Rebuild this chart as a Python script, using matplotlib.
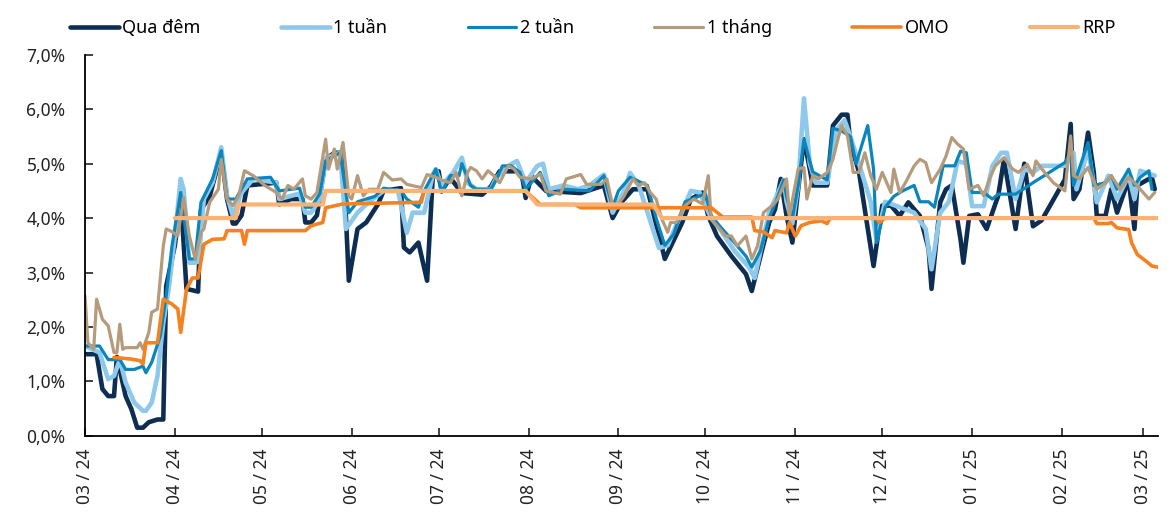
import pandas as pd
import matplotlib.pyplot as plt
import matplotlib.dates as mdates
from matplotlib.ticker import FuncFormatter

plt.rcParams['font.family'] = ['Noto Sans', 'DejaVu Sans']

start = pd.Timestamp("2024-03-01")

# day offsets from 1 Mar 2024 and rates in %
qd_days = [0, 4, 6, 8, 10, 11, 14, 16, 18, 20, 22, 25, 27, 28, 31, 33, 35, 39, 40, 43, 47, 49, 51, 52, 54, 56,
           66, 67, 71, 75, 76, 78, 80, 83, 86, 89, 91, 94, 97, 101, 103, 109, 110, 112, 115, 118, 120, 122, 123,
           126, 130, 137, 140, 143, 150, 151, 152, 154, 159, 171, 179, 182, 185, 189, 194, 200, 206, 209, 213,
           215, 218, 223, 228, 230, 233, 236, 238, 240, 242, 244, 246, 248, 250, 251, 256, 258, 261, 263, 264,
           267, 272, 275, 278, 281, 284, 288, 291, 292, 295, 297, 299, 302, 303, 305, 308, 311, 315, 317, 321,
           324, 327, 330, 338, 340, 341, 343, 346, 348, 349, 352, 354, 356, 360, 362, 363, 368, 369]
qd_vals = [1.5, 1.5, 0.86, 0.73, 0.73, 1.45, 0.73, 0.49, 0.15, 0.15, 0.25, 0.3, 0.3, 2.75, 3.5, 4.4, 2.7, 2.65,
           4.15, 4.4, 5.2, 4.35, 3.9, 3.9, 4.05, 4.6,
           4.65, 4.25, 4.35, 4.35, 3.92, 3.92, 4.05, 5.08, 5.2, 5.2, 2.85, 3.8, 3.92, 4.25, 4.5, 4.55, 3.46, 3.37,
           3.55, 2.85, 4.8, 4.86, 4.5,
           4.74, 4.46, 4.43, 4.58, 4.86, 4.86, 4.7, 4.37, 4.77, 4.5, 4.46, 4.6, 4.0, 4.29, 4.53, 4.53, 3.25, 3.92,
           4.35, 4.47,
           4.04, 3.67, 3.3, 2.97, 2.66, 3.3, 3.92, 4.16, 4.72, 4.04, 3.55, 4.53, 5.45, 4.9, 4.6, 4.6, 5.7, 5.9,
           5.9, 5.39,
           4.84, 3.12, 4.23, 4.23, 4.04, 4.29, 4.04, 3.43, 2.7, 4.29, 4.53, 4.6, 3.61, 3.18, 4.04, 4.07, 3.8, 4.41,
           5.08, 3.8,
           5.0, 3.85, 3.96, 4.71, 5.73, 4.35, 4.53, 5.57, 4.83, 4.04, 4.04, 4.53, 4.1, 4.71, 3.8, 4.6, 4.75, 4.53]

w1_days = [0, 5, 8, 10, 12, 14, 17, 20, 21, 23, 25, 27, 29, 31, 33, 34, 36, 38, 39, 41, 44, 47, 49, 51, 54, 58,
           66, 67, 74, 76, 78, 81, 83, 88, 90, 94, 98, 103, 108, 111, 113, 117, 120,
           121, 123, 127, 130, 132, 135, 140, 142, 146, 149, 152, 156, 158, 160, 165, 170, 174, 179, 182, 186,
           188, 191, 198, 201, 205, 209, 212, 216, 219, 224, 229, 231, 233, 236, 241, 242, 244, 246, 248, 250,
           252, 256, 259, 262, 264, 267, 271, 273, 276, 281, 286, 290, 292, 295, 298, 301, 304, 306, 310, 313,
           316, 318, 321, 324, 327, 330, 338, 341, 342, 346, 349, 353, 356, 360, 362, 364, 369]
w1_vals = [1.65, 1.53, 1.04, 1.1, 1.4, 0.98, 0.61, 0.46, 0.46, 0.61, 1.1, 2.08, 2.75, 3.67, 4.72, 4.53, 3.18,
           3.18, 3.2, 4.35, 4.65, 5.3, 4.41, 4.04, 4.47, 4.72,
           4.65, 4.35, 4.45, 4.1, 4.1, 4.35, 5.1, 5.2, 3.8, 4.1, 4.3, 4.5, 4.5, 3.73, 4.1, 4.1, 4.8,
           4.9, 4.6, 4.84, 5.11, 4.65, 4.53, 4.53, 4.75, 4.96, 5.05, 4.65, 4.96, 5.0, 4.53, 4.6, 4.53, 4.6, 4.8,
           4.1, 4.5,
           4.83, 4.6, 3.45, 3.5, 4.0, 4.5, 4.47, 4.0, 3.8, 3.4, 3.1, 2.9, 3.4, 4.1, 4.7, 4.3, 3.9, 4.6, 6.2, 5.0,
           4.65, 4.65, 5.6, 5.8, 5.5, 5.0, 4.3, 3.6, 4.3, 4.2, 4.1, 3.8, 3.06, 4.1, 4.3, 5.05, 5.0, 4.22, 4.22,
           4.96,
           5.2, 5.2, 4.35, 4.9, 4.84, 4.96, 4.96, 5.2, 4.53, 5.27, 4.29, 4.78, 4.35, 4.78, 4.35, 4.87, 4.78]

w2_days = [0, 5, 8, 12, 14, 17, 20, 21, 23, 26, 28, 30, 33, 36, 38, 40, 44, 47, 49, 52, 56, 64, 67, 74, 76, 78,
           81, 83, 88, 91, 94, 100, 103, 109, 111, 115, 117, 120, 121, 123, 126, 129, 130, 133, 135, 140, 142,
           144, 147, 150, 152, 157, 160, 165, 174, 179, 182, 184, 188, 194, 197, 200, 203, 207, 214, 216, 219,
           224, 228, 230, 233, 236, 239, 241, 242, 244, 246, 248, 251, 256, 258, 261, 264, 266, 270, 272, 273,
           276, 279, 282, 286, 288, 291, 293, 296, 300, 302, 304, 306, 310, 313, 315, 321, 327, 338, 340, 341,
           346, 348, 352, 354, 356, 360, 362, 364, 367, 368]
w2_vals = [1.65, 1.65, 1.4, 1.4, 1.22, 1.22, 1.28, 1.16, 1.35, 1.84, 2.57, 3.49, 4.47, 3.25, 3.25, 4.29, 4.72,
           5.24, 4.35, 4.35, 4.72, 4.75, 4.5, 4.55, 4.2, 4.2,
           4.45, 5.05, 5.2, 4.1, 4.3, 4.4, 4.55, 4.5, 4.35, 4.2, 4.5, 4.8, 4.9, 4.47, 4.78, 4.78, 5.0, 4.6, 4.53,
           4.53, 4.72,
           4.96, 4.96, 4.84, 4.53, 4.84, 4.41, 4.53, 4.5, 4.78, 4.2, 4.5, 4.75, 4.6, 4.0, 3.5, 3.7, 4.3, 4.45,
           4.05, 3.85,
           3.55, 3.3, 3.1, 3.4, 4.0, 4.4, 4.7, 4.4, 4.0, 4.6, 5.45, 4.85, 4.7, 5.65, 5.6, 5.5, 5.0, 5.7, 4.9, 3.55,
           4.2, 4.4, 4.5, 4.6, 4.3, 4.3, 4.2, 4.96, 4.96, 5.23, 5.2, 4.47, 4.47, 4.35, 4.44, 4.44, 4.65, 5.02,
           5.2, 4.6,
           5.39, 4.6, 4.65, 4.78, 4.53, 4.9, 4.6, 4.75, 4.87, 4.53]

m1_days = [0, 1, 3, 4, 6, 8, 10, 11, 12, 13, 14, 18, 19, 20, 22, 23, 25, 27, 28, 30, 32, 34, 36, 38, 40, 41,
           43, 46, 47, 49, 51, 53, 55, 58, 62, 66, 68, 70, 72, 75, 76, 78, 80, 83, 84, 86, 87, 89, 91, 92, 94,
           96, 98, 101, 103, 106, 109, 111, 116, 118, 121, 123, 126, 128, 130, 132, 133, 135, 137, 139, 141,
           143, 146, 148, 150, 154, 157, 159, 164, 166, 171, 173, 178, 180, 182, 184, 186, 189, 191, 193, 195,
           197, 199, 201, 202, 204, 207, 210, 213, 215, 216, 218, 221, 223, 225, 228, 230, 232, 234, 237, 239,
           241, 242, 243, 246, 248, 249, 251, 253, 256, 258, 260, 261, 263, 265, 267, 269, 271, 273, 275, 278,
           279, 281, 283, 286, 288, 290, 292, 295, 297, 299, 301, 303, 305, 308, 310, 312, 314, 317, 320, 322,
           325, 327, 328, 331, 334, 338, 340, 341, 343, 346, 349, 352, 354, 357, 360, 362, 367, 369]
m1_vals = [2.57, 1.71, 1.59, 2.51, 2.14, 2.02, 1.53, 1.53, 2.05, 1.59, 1.62, 1.62, 1.71, 1.59, 1.9, 2.27, 2.33,
           3.49, 3.8, 3.75, 3.67, 4.38, 3.67, 3.25, 3.74, 3.8,
           4.29, 4.53, 5.08, 4.35, 4.23, 4.41, 4.87, 4.78, 4.6, 4.47, 4.35, 4.6, 4.53, 4.72, 4.41, 4.35, 4.47,
           5.45, 4.9, 5.27, 4.9, 5.39, 4.41, 4.35, 4.78,
           4.41, 4.53, 4.53, 4.84, 4.7, 4.72, 4.62, 4.56, 4.8, 4.75, 4.7, 4.65, 4.84, 4.41, 4.84, 4.93, 4.87,
           4.72, 4.87, 4.78,
           4.65, 4.96, 4.9, 4.75, 4.72, 4.81, 4.5, 4.44, 4.72, 4.8, 4.62, 4.62, 4.72, 4.23, 4.26, 4.41, 4.72, 4.6,
           4.65, 4.47,
           4.35, 3.98, 3.74, 3.92, 3.92, 4.23, 4.35, 4.26, 4.78, 3.98, 3.86, 3.67, 3.67, 3.49, 3.67, 3.25, 3.49,
           4.1, 4.23, 4.35,
           4.6, 4.72, 4.04, 4.9, 4.93, 4.35, 4.78, 4.72, 4.84, 5.08, 5.51, 5.7, 5.51, 4.84, 4.84, 5.2, 4.78, 4.53,
           4.84, 4.47,
           4.9, 4.47, 4.65, 4.96, 5.08, 5.02, 4.65, 4.9, 5.14, 5.48, 5.36, 5.27, 4.53, 4.6, 4.41, 4.72, 4.96,
           5.11, 4.9, 4.84,
           4.99, 4.78, 5.05, 4.84, 4.65, 4.5, 5.51, 4.78, 4.72, 4.93, 4.53, 4.65, 4.78, 4.53, 4.75, 4.65, 4.35,
           4.47]

omo_days = [10, 16, 19, 20, 21, 25, 27, 30, 32, 33, 35, 37, 39, 41, 44, 48, 49, 54, 55, 56, 76, 78, 82, 83,
            89, 116, 117, 152, 157, 169, 171, 216, 220, 230, 231, 234, 237, 238, 242, 243, 245, 247, 250, 254,
            256, 257, 273, 274, 276, 348, 349, 353, 354, 356, 360, 361, 363, 366, 368, 370]
omo_vals = [1.44, 1.41, 1.38, 1.32, 1.71, 1.71, 2.51, 2.42, 2.33, 1.9, 2.69, 2.9, 2.9, 3.52, 3.61, 3.62, 3.77,
            3.77, 3.52, 3.77, 3.77, 3.86, 3.92, 4.19,
            4.26, 4.29, 4.5, 4.5, 4.25, 4.25, 4.19, 4.19, 4.02, 4.02, 3.77, 3.75, 3.64, 3.77, 3.73, 3.92, 3.67,
            3.86, 3.92, 3.95,
            3.9, 4.0, 4.0, 3.92, 4.0, 4.0, 3.9, 3.9, 3.92, 3.82, 3.79, 3.55, 3.33, 3.21, 3.12, 3.1]

rrp_days = [31, 52, 53, 82, 83, 152, 156, 196, 199, 370]
rrp_vals = [4.0, 4.0, 4.25, 4.25, 4.5, 4.5, 4.25, 4.25, 4.0, 4.0]

series = [
    ("Qua đêm", qd_days, qd_vals, "#0d2e52", 3.3),
    ("1 tuần", w1_days, w1_vals, "#8ec8ea", 3.3),
    ("2 tuần", w2_days, w2_vals, "#0a86bd", 2.3),
    ("1 tháng", m1_days, m1_vals, "#b59a7b", 2.3),
    ("OMO", omo_days, omo_vals, "#f5821f", 2.6),
    ("RRP", rrp_days, rrp_vals, "#fbb275", 3.0),
]

fig = plt.figure(figsize=(11.71, 5.17), dpi=100)
ax = fig.add_axes([0.0726, 0.157, 0.916, 0.737])

for name, d, v, c, lw in series:
    dates = start + pd.to_timedelta(d, unit="D")
    ax.plot(dates, v, color=c, lw=lw, label=name, solid_joinstyle="round", solid_capstyle="round")

ax.set_xlim(start, start + pd.Timedelta(days=370))
ax.set_ylim(0, 7)
ax.set_yticks(range(0, 8))
ax.yaxis.set_major_formatter(FuncFormatter(lambda v, p: f"{v:.1f}%".replace(".", ",")))
ax.xaxis.set_major_locator(mdates.MonthLocator())
ax.xaxis.set_major_formatter(mdates.DateFormatter("%m / %y"))
plt.setp(ax.get_xticklabels(), rotation=90)

for s in ["top", "right"]:
    ax.spines[s].set_visible(False)
for s in ["left", "bottom"]:
    ax.spines[s].set_linewidth(1.3)
ax.tick_params(axis="y", direction="in", length=6, width=1.2, pad=14, labelsize=12.5, colors="#222222")
ax.tick_params(axis="x", direction="in", length=6, width=1.2, pad=9, labelsize=12.5, colors="#222222")

fig.legend(loc="center", bbox_to_anchor=(0.506, 0.946), ncol=6, frameon=False, fontsize=13,
           handlelength=2.7, handletextpad=0.2, columnspacing=4.45)

fig.savefig("out.png", dpi=100)
